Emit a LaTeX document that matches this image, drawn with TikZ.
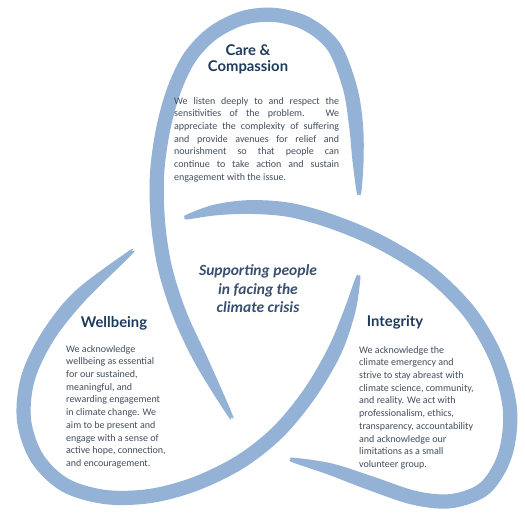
\documentclass[tikz,border=0pt]{standalone}
\usepackage{fontspec}
\setmainfont{Carlito}
\newfontfamily\titlefont{Lato}
\definecolor{strandfill}{HTML}{93B2D5}
\definecolor{titlecol}{HTML}{1F3B5C}
\definecolor{bodycol}{HTML}{434E5E}
\definecolor{centercol}{HTML}{3A5070}
\newcommand\taperstrand[1]{%
  \foreach \tsp/\tsq [count=\tsc from 0] in {#1}{%
    \expandafter\xdef\csname tsx\tsc\endcsname{\tsp}%
    \expandafter\xdef\csname tsy\tsc\endcsname{\tsq}%
    \xdef\tsn{\tsc}}%
  \expandafter\gdef\csname tss0\endcsname{0}%
  \foreach \tsc in {1,...,\tsn}{%
    \pgfmathtruncatemacro\tsd{\tsc-1}%
    \edef\tsXa{\csname tsx\tsd\endcsname}\edef\tsYa{\csname tsy\tsd\endcsname}%
    \edef\tsXb{\csname tsx\tsc\endcsname}\edef\tsYb{\csname tsy\tsc\endcsname}%
    \edef\tsSa{\csname tss\tsd\endcsname}%
    \pgfmathsetmacro\tsSb{\tsSa+veclen(\tsXb-\tsXa,\tsYb-\tsYa)}%
    \expandafter\xdef\csname tss\tsc\endcsname{\tsSb}}%
  \edef\tsL{\csname tss\tsn\endcsname}%
  \gdef\tsout{}\gdef\tsin{}%
  \foreach \tsc in {0,...,\tsn}{%
    \pgfmathtruncatemacro\tsa{max(\tsc-1,0)}%
    \pgfmathtruncatemacro\tsb{min(\tsc+1,\tsn)}%
    \edef\tsXa{\csname tsx\tsa\endcsname}\edef\tsYa{\csname tsy\tsa\endcsname}%
    \edef\tsXb{\csname tsx\tsb\endcsname}\edef\tsYb{\csname tsy\tsb\endcsname}%
    \edef\tsX{\csname tsx\tsc\endcsname}\edef\tsY{\csname tsy\tsc\endcsname}%
    \edef\tsS{\csname tss\tsc\endcsname}%
    \pgfmathsetmacro\tsDX{\tsXb-\tsXa}%
    \pgfmathsetmacro\tsDY{\tsYb-\tsYa}%
    \pgfmathsetmacro\tsDL{veclen(\tsDX,\tsDY)}%
    \pgfmathsetmacro\tsH{2.4+4.7*sqrt(min(min(\tsS,\tsL-\tsS)/70,1))}%
    \pgfmathsetmacro\tsOX{\tsX-\tsH*\tsDY/\tsDL}%
    \pgfmathsetmacro\tsOY{\tsY+\tsH*\tsDX/\tsDL}%
    \pgfmathsetmacro\tsIX{\tsX+\tsH*\tsDY/\tsDL}%
    \pgfmathsetmacro\tsIY{\tsY-\tsH*\tsDX/\tsDL}%
    \xdef\tsout{\tsout(\tsOX,\tsOY) }%
    \xdef\tsin{(\tsIX,\tsIY) \tsin}%
    \ifnum\tsc=0 \pgfmathsetmacro\tsTX{\tsX-2.4*\tsDX/\tsDL}\pgfmathsetmacro\tsTY{\tsY-2.4*\tsDY/\tsDL}\xdef\tsstart{(\tsTX,\tsTY)}\fi
    \ifnum\tsc=\tsn\relax \pgfmathsetmacro\tsTX{\tsX+2.4*\tsDX/\tsDL}\pgfmathsetmacro\tsTY{\tsY+2.4*\tsDY/\tsDL}\xdef\tsend{(\tsTX,\tsTY)}\fi
  }%
  \edef\tsdraw{\noexpand\fill[strandfill] plot[smooth cycle, tension=0.55] coordinates {\tsstart\space\tsout\space\tsend\space\tsin};}%
  \tsdraw}
\newcommand\jline[1]{\hbox to 165pt{\spaceskip=2.2pt plus 1fil\relax #1}}
\tikzset{
  titletext/.style={font=\titlefont\bfseries\fontsize{14.8}{16}\selectfont, text=titlecol, align=center, inner sep=0pt},
  bodytext/.style={font=\fontsize{10}{12.7}\selectfont, text=bodycol, align=left, inner sep=0pt},
  centertext/.style={font=\bfseries\itshape\fontsize{15.5}{18.5}\selectfont, text=centercol, align=center, inner sep=0pt}
}
\begin{document}
\begin{tikzpicture}[x=1pt,y=-1pt]
\useasboundingbox (0,0) rectangle (524,526);
\fill[white] (0,0) rectangle (524,526);
% strand A: top lobe
\taperstrand{359/192, 358/160, 356/125, 350/88, 334/47, 307/24, 275/15, 243/18, 213/33, 190/57, 174/90, 163/130, 157/175, 158/222, 165/268, 180/315, 202/362, 230/415}
% strand B: middle to integrity lobe
\taperstrand{187/217, 215/210, 250/207, 290/210, 333/222, 380/242, 430/273, 470/313, 497/360, 510/410, 505/455, 485/488, 452/501, 415/498, 370/483, 330/469, 293/460}
% strand C: wellbeing lobe
\taperstrand{358/278, 350/310, 335/350, 310/393, 278/432, 240/462, 195/484, 150/496, 105/497, 65/485, 37/458, 24/420, 28/378, 48/336, 80/296, 130/253}

\node[titletext] (caretitle) at (248,59) {Care \&\\Compassion};
\node[bodytext, anchor=north west] (carebody) at (174,97) {%
\jline{We listen deeply to and respect the}\\
\jline{sensitivities of the problem. We}\\
\jline{appreciate the complexity of suffering}\\
\jline{and provide avenues for relief and}\\
\jline{nourishment so that people can}\\
\jline{continue to take action and sustain}\\
engagement with the issue.};

\node[centertext] (centre) at (258,289) {Supporting people\\in facing the\\climate crisis};

\node[titletext] (welltitle) at (114,323) {Wellbeing};
\node[bodytext, anchor=north west] (wellbody) at (66,345) {We acknowledge\\wellbeing as essential\\for our sustained,\\meaningful, and\\rewarding engagement\\in climate change. We\\aim to be present and\\engage with a sense of\\active hope, connection,\\and encouragement.};

\node[titletext] (inttitle) at (395,322) {Integrity};
\node[bodytext, anchor=north west] (intbody) at (359,346) {We acknowledge the\\climate emergency and\\strive to stay abreast with\\climate science, community,\\and reality. We act with\\professionalism, ethics,\\transparency, accountability\\and acknowledge our\\limitations as a small\\volunteer group.};
\end{tikzpicture}
\end{document}
